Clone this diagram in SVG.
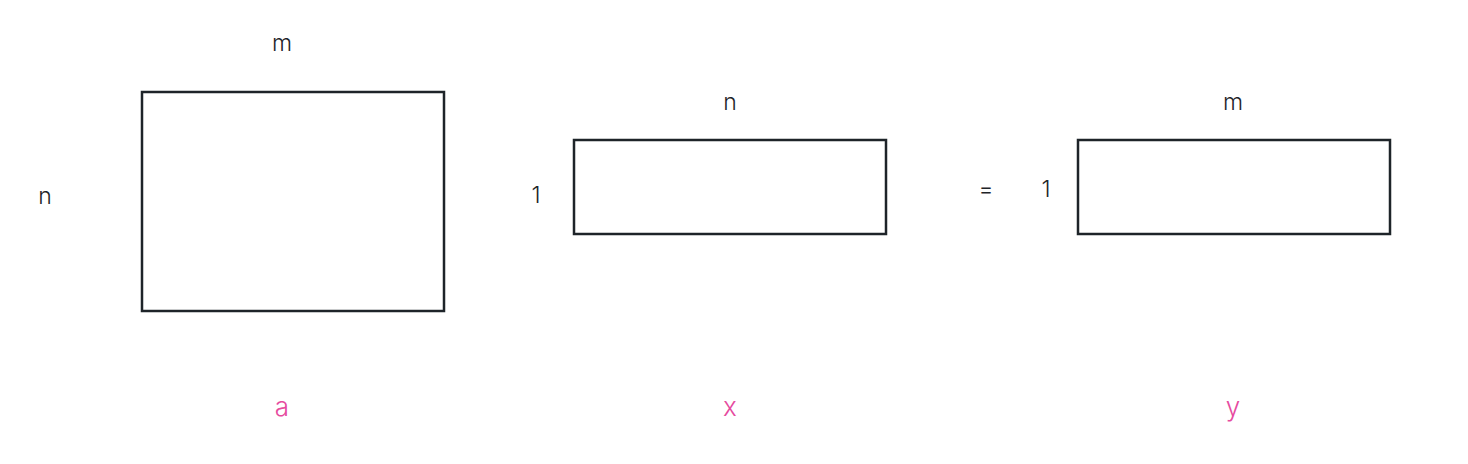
<svg xmlns="http://www.w3.org/2000/svg" width="1468" height="464" viewBox="0 0 1468 464">
<style>
.box{fill:none;stroke:#1e2429;stroke-width:2.5}
.t{font-family:Inter,"Liberation Sans",sans-serif;font-size:23px;font-weight:300;fill:#1e2429;text-anchor:middle}
.p{font-family:Inter,"Liberation Sans",sans-serif;font-size:26px;font-weight:300;fill:#e64b9f;text-anchor:middle}
</style>
<rect width="1468" height="464" fill="#ffffff"/>
<g id="a">
<rect class="box" x="142" y="92" width="302" height="219"/>
<text class="t" x="282" y="51">m</text>
<text class="t" x="45" y="204">n</text>
<text class="p" x="282" y="416">a</text>
</g>
<g id="x">
<rect class="box" x="574" y="140" width="312" height="94"/>
<text class="t" x="730" y="110">n</text>
<text class="t" x="536" y="203">1</text>
<text class="p" x="730" y="416">x</text>
</g>
<g id="eq">
<text class="t" x="986" y="197">=</text>
</g>
<g id="y">
<rect class="box" x="1078" y="140" width="312" height="94"/>
<text class="t" x="1233" y="110">m</text>
<text class="t" x="1046" y="197">1</text>
<text class="p" x="1233" y="416">y</text>
</g>
<g id="connectors"></g>
</svg>
